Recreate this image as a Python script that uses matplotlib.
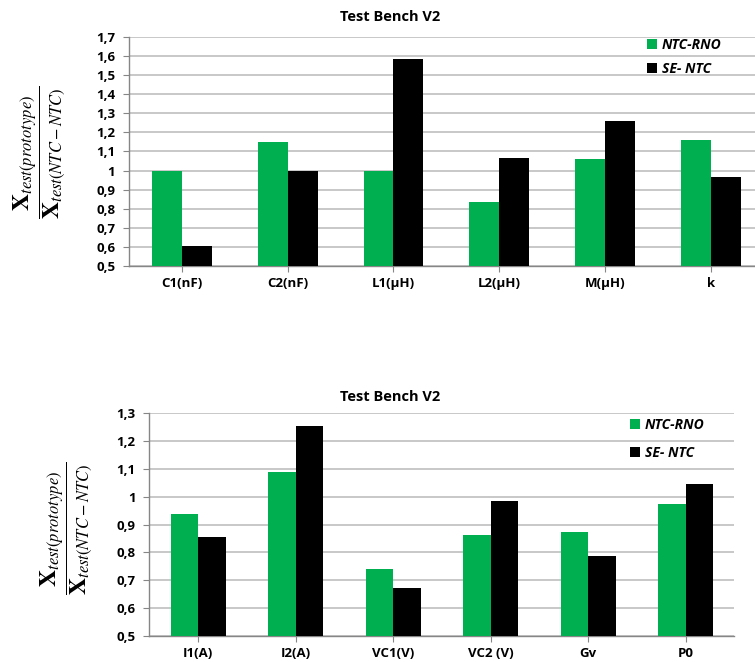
import matplotlib
matplotlib.use("Agg")
import matplotlib.pyplot as plt
from matplotlib.ticker import FuncFormatter, MultipleLocator
from matplotlib.patches import Patch
import numpy as np

plt.rcParams['font.family'] = ['Open Sans', 'DejaVu Sans']
plt.rcParams['mathtext.fontset'] = 'stix'

# Data
series_names = ['NTC-RNO', 'SE- NTC']
top_categories = ['C1(nF)', 'C2(nF)', 'L1(μH)', 'L2(μH)', 'M(μH)', 'k']
top_rno = [1.00, 1.15, 1.00, 0.837, 1.061, 1.16]
top_se = [0.604, 1.00, 1.583, 1.068, 1.258, 0.966]

bot_categories = ['I1(A)', 'I2(A)', 'VC1(V)', 'VC2 (V)', 'Gv', 'P0']
bot_rno = [0.937, 1.09, 0.74, 0.862, 0.872, 0.974]
bot_se = [0.857, 1.255, 0.672, 0.986, 0.786, 1.045]

GREEN = '#00B050'
BLACK = '#000000'
GRID = '#BFBFBF'
ylabel = r'$\dfrac{\mathbf{X}_{test(prototype)}}{\mathbf{X}_{test(NTC-NTC)}}$'


def comma_fmt(v, pos):
    s = f"{v:.1f}".replace('.', ',')
    if s.endswith(',0'):
        s = s[:-2]
    return s


def draw_panel(ax, cats, g, b, ylim):
    x = np.arange(len(cats))
    w = 0.283
    ax.bar(x - w / 2, g, w, color=GREEN, zorder=3)
    ax.bar(x + w / 2, b, w, color=BLACK, zorder=3)
    ax.set_xlim(-0.5, len(cats) - 0.5)
    ax.set_ylim(*ylim)
    ax.yaxis.set_major_locator(MultipleLocator(0.1))
    ax.yaxis.set_major_formatter(FuncFormatter(comma_fmt))
    ax.set_xticks(x)
    ax.set_xticklabels(cats)
    ax.grid(axis='y', color=GRID, linewidth=1.2, zorder=0)
    for s in ['top', 'right']:
        ax.spines[s].set_visible(False)
    for s in ['left', 'bottom']:
        ax.spines[s].set_color('#868686')
        ax.spines[s].set_linewidth(1.0)
    ax.tick_params(axis='both', length=4, color='#868686', labelsize=9.5)
    ax.tick_params(axis='y', pad=6)
    ax.tick_params(axis='x', pad=4)
    for lab in ax.get_xticklabels() + ax.get_yticklabels():
        lab.set_fontweight('bold')


fig = plt.figure(figsize=(7.55, 6.62), dpi=100)

ax1 = fig.add_axes([0.1709, 0.5982, 0.8405, 0.3459])
draw_panel(ax1, top_categories, top_rno, top_se, (0.5, 1.7))
ax2 = fig.add_axes([0.198, 0.0393, 0.7747, 0.3364])
draw_panel(ax2, bot_categories, bot_rno, bot_se, (0.5, 1.3))

fig.text(390 / 755, 1 - 17 / 662, 'Test Bench V2', ha='center', va='center',
         fontsize=10.5, fontweight='bold')
fig.text(390 / 755, 1 - 397 / 662, 'Test Bench V2', ha='center', va='center',
         fontsize=10.5, fontweight='bold')

fig.text(40 / 755, 1 - 152 / 662, ylabel, rotation=90, ha='center', va='center', fontsize=17)
fig.text(67 / 755, 1 - 528 / 662, ylabel, rotation=90, ha='center', va='center', fontsize=17)

handles = [Patch(facecolor=GREEN), Patch(facecolor=BLACK)]
legend_spots = [(647 / 755, 1 - 38 / 662, 0.7), (630 / 755, 1 - 418 / 662, 1.0)]
for (lx, ly, sp) in legend_spots:
    fig.legend(handles, series_names, loc='upper left', bbox_to_anchor=(lx, ly),
               frameon=False, handlelength=0.75, handleheight=0.75, handletextpad=0.3,
               labelspacing=sp, borderpad=0, borderaxespad=0,
               prop={'weight': 'bold', 'style': 'italic', 'size': 10})

fig.savefig('out.png', dpi=100)
